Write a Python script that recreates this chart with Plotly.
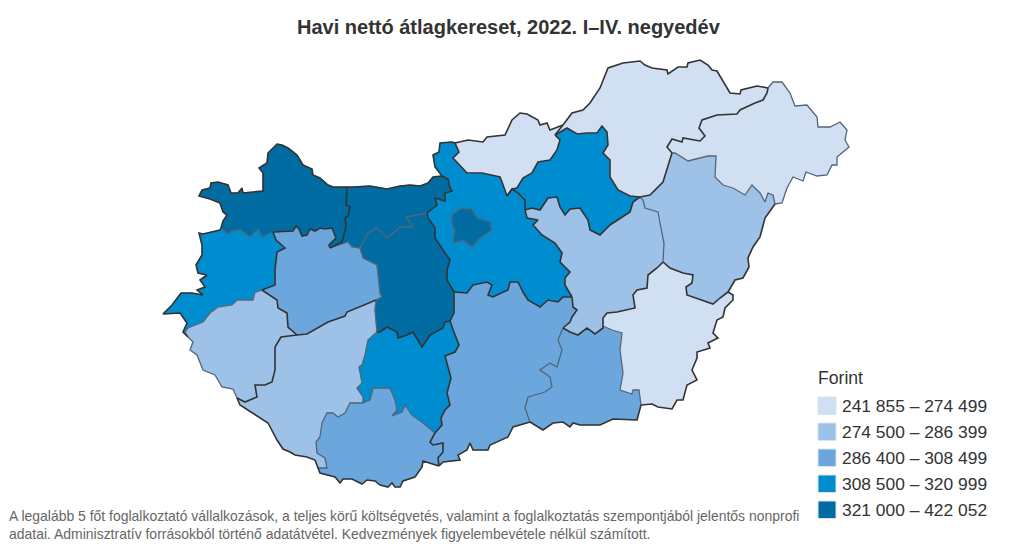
import plotly.graph_objects as go

# Havi nettó átlagkereset by county, boundaries (map units)
TITLE = "Havi nettó átlagkereset, 2022. I–IV. negyedév"
LEGEND_TITLE = "Forint"
CLASS_LABELS = ["241 855 – 274 499", "274 500 – 286 399", "286 400 – 308 499",
                "308 500 – 320 999", "321 000 – 422 052"]
CLASS_COLORS = ["#d0dff2", "#9dc1e7", "#6ba7dc", "#008dcf", "#006ca2"]
NOTE_LINES = ["A legalább 5 főt foglalkoztató vállalkozások, a teljes körű költségvetés, valamint a foglalkoztatás szempontjából jelentős nonprofi",
              "adatai. Adminisztratív forrásokból történő adatátvétel. Kedvezmények figyelembevétele nélkül számított."]

# county borders, shared between neighbours
GMS_N = [(347,187),(333,187),(328,185),(320,178),(313,175),(312,169),(303,165),(297,155),(288,148),(282,145),(277,144),(268,153),(267,163),(259,168),(263,173),(263,191),(243,193),(242,188),(238,193),(231,193),(228,185),(218,182),(211,183),(210,188),(202,190),(199,196),(210,199),(220,203),(223,212),(227,215),(223,221),(221,228)]
GMS_VAS = [(221,228),(227,234),(232,231),(240,230),(250,237),(258,229),(262,237),(273,232)]
GMS_VESZ = [(273,232),(293,231),(296,226),(299,229),(302,236),(307,235),(310,229),(315,231),(320,228),(325,229),(332,228),(336,238),(329,245),(330,248)]
GMS_KE = [(347,187),(346,205),(350,207),(348,216),(345,218),(346,227),(342,242),(332,247),(330,248)]
KE_NORTH = [(347,187),(353,187),(370,186),(387,189),(400,186),(410,185),(420,186),(428,183),(433,177),(442,176)]
KE_PEST = [(442,176),(448,179),(450,188),(452,191),(445,193),(445,201),(435,198),(437,205),(427,213)]
KE_FEJER = [(427,213),(406,217),(413,227),(408,227),(400,227),(387,238),(377,228),(368,233),(360,248)]
KE_VESZ = [(360,248),(352,247),(348,242),(340,245),(330,248)]
VAS_WEST = [(221,228),(220,230),(203,234),(199,233),(202,245),(202,255),(196,265),(198,273),(207,275),(200,280),(205,287),(197,290),(203,295),(192,293),(181,293),(172,305),(163,314),(180,313),(187,323),(183,332),(188,337)]
VAS_ZALA = [(188,337),(185,332),(188,328),(203,322),(210,313),(218,307),(232,305),(237,300),(253,300),(255,292),(262,290)]
VAS_VESZ = [(262,290),(275,285),(275,270),(277,252),(285,248),(276,240),(273,232)]
VESZ_FEJER = [(360,248),(363,258),(377,265),(380,293),(382,297),(376,300)]
VESZ_SOM = [(376,300),(347,312),(345,316),(328,322),(307,334),(297,335)]
VESZ_ZALA = [(297,335),(288,327),(287,313),(278,308),(277,300),(262,290)]
ZALA_SOM = [(297,335),(281,337),(275,347),(275,370),(272,382),(265,385),(255,385),(257,397),(245,402),(237,398)]
ZALA_OUT = [(188,337),(193,342),(190,350),(197,355),(203,370),(215,375),(222,387),(233,389),(237,398)]
FEJER_SOM = [(376,300),(375,310),(377,332)]
SOM_TOLNA = [(377,332),(368,340),(365,355),(362,365),(359,367),(362,383),(357,388),(363,397),(363,403)]
SOM_BAR = [(363,403),(350,403),(345,413),(338,417),(333,413),(327,413),(322,423),(320,437),(316,442),(317,453),(325,458),(327,468),(318,468)]
SOM_OUT = [(318,468),(315,460),(307,457),(295,455),(290,452),(283,449),(277,440),(268,423),(240,405),(237,398)]
BAR_TOLNA = [(363,403),(370,400),(373,388),(390,388),(395,400),(397,410),(392,416),(402,412),(405,405),(412,415),(423,423),(435,433)]
BAR_BACS = [(435,433),(430,442),(433,445),(443,443),(443,452),(438,458),(439,466)]
BAR_OUT = [(439,466),(423,461),(422,467),(415,477),(403,481),(400,487),(395,487),(392,483),(388,487),(380,485),(375,481),(367,480),(362,484),(352,479),(343,479),(340,483),(335,477),(320,473),(318,468)]
TOLNA_BACS = [(435,433),(442,425),(441,418),(445,410),(450,405),(447,393),(451,378),(448,367),(445,356),(455,352),(459,345),(455,335),(450,321)]
FEJER_TOLNA = [(377,332),(380,332),(387,327),(397,332),(398,338),(407,335),(413,332),(420,343),(422,347),(430,335),(443,328),(445,322),(450,321)]
FEJER_PEST = [(427,213),(428,218),(435,228),(435,238),(445,253),(450,260),(447,270),(447,280),(454,292)]
FEJER_BACS = [(454,292),(454,313),(450,321)]
PEST_N = [(442,176),(435,167),(433,155),(439,152),(440,143),(452,142),(455,143)]
PEST_NOG = [(455,143),(459,152),(453,158),(467,173),(482,173),(500,177),(502,182),(507,196)]
PEST_HEV = [(507,196),(512,189),(518,193),(525,200),(525,210)]
PEST_JNSZ = [(525,210),(527,218),(538,220),(533,225),(542,235),(555,243),(562,253),(560,262),(570,272),(565,278),(565,285),(572,297)]
PEST_BACS = [(454,292),(467,293),(473,285),(482,283),(487,282),(492,285),(488,295),(493,297),(508,290),(510,282),(518,282),(523,292),(528,300),(540,307),(548,300),(558,302),(563,297),(572,297)]
BACS_JNSZ = [(572,297),(573,307),(577,310),(572,317),(570,322),(563,328)]
BACS_CSON = [(563,328),(558,340),(562,350),(557,367),(550,363),(540,370),(550,377),(552,387),(545,392),(528,397),(525,408),(530,422)]
BACS_OUT = [(530,422),(513,427),(508,437),(490,445),(488,450),(473,450),(470,443),(467,450),(458,455),(460,460),(443,462),(439,466)]
CSON_JNSZ = [(563,328),(570,332),(578,335),(587,328),(595,334),(603,328),(603,326)]
CSON_BEK = [(603,326),(612,330),(622,333),(620,350),(623,373),(620,390),(632,394),(633,390),(639,390),(641,405)]
CSON_OUT = [(641,405),(637,420),(613,419),(600,425),(580,425),(573,423),(570,427),(563,422),(553,423),(543,430),(530,422)]
JNSZ_BEK = [(603,326),(603,318),(607,313),(617,312),(635,308),(633,295),(637,290),(647,288),(648,275),(657,268),(663,262)]
HAJ_BEK = [(663,262),(670,268),(683,273),(693,275),(692,283),(686,287),(687,295),(707,302),(713,304),(720,298),(728,292)]
BEK_OUT = [(728,292),(733,295),(733,300),(725,308),(723,317),(717,320),(713,333),(718,338),(708,343),(710,348),(697,352),(697,358),(692,370),(697,380),(687,385),(683,400),(677,400),(672,409),(658,407),(652,404),(641,405)]
JNSZ_HAJ = [(640,197),(643,200),(645,208),(658,212),(660,223),(664,243),(663,262)]
HEV_JNSZ = [(525,210),(532,208),(540,210),(548,198),(557,197),(560,207),(565,215),(570,209),(580,208),(588,220),(590,230),(600,235),(610,225),(630,212),(633,202),(640,197)]
HEV_NOG = [(507,196),(512,189),(517,188),(523,178),(532,173),(538,162),(550,160),(557,150),(560,140),(555,135)]
HEV_BAZ = [(555,135),(567,128),(577,134),(587,133),(597,133),(602,126),(607,132),(608,145),(603,153),(610,160),(610,177),(618,190),(630,196),(640,197)]
NOG_N = [(455,143),(468,140),(483,142),(487,137),(505,135),(512,120),(520,113),(527,114),(538,120),(540,125),(547,123),(550,130),(563,125)]
NOG_BAZ = [(563,125),(555,135)]
BAZ_N = [(563,125),(572,113),(583,110),(590,103),(600,88),(608,68),(623,63),(640,61),(645,65),(652,68),(667,70),(668,74),(678,67),(687,67),(688,63),(700,60),(708,65),(712,70),(717,71),(722,80),(730,93),(740,94),(741,90),(757,86),(768,88)]
BAZ_SZAB = [(768,88),(767,93),(763,100),(755,103),(740,110),(737,114),(717,115),(702,120),(699,128),(705,136),(700,141),(683,138),(682,142),(672,139),(667,147),(672,153)]
BAZ_HAJ = [(672,153),(668,165),(663,182),(650,195),(640,197)]
SZAB_OUT = [(768,88),(773,82),(782,82),(790,93),(795,106),(807,105),(817,117),(818,127),(830,127),(840,122),(847,130),(845,140),(849,147),(837,157),(837,165),(832,165),(827,175),(817,176),(806,172),(803,181),(793,177),(787,188),(782,203),(775,204)]
SZAB_HAJ = [(775,204),(773,195),(768,193),(765,202),(760,193),(752,185),(745,195),(733,188),(723,185),(715,177),(716,156),(708,156),(688,161),(675,153),(672,153)]
HAJ_OUT = [(775,204),(765,218),(760,237),(753,247),(748,258),(749,267),(743,278),(735,280),(728,292)]
BUDAPEST = [(452,215),(462,208),(472,209),(477,218),(490,222),(492,230),(480,238),(472,247),(463,240),(453,243),(455,230),(452,225),(452,215)]

DARK_ARCS = [GMS_N, GMS_VESZ, GMS_KE, KE_NORTH, KE_PEST, VAS_WEST, VAS_VESZ, VESZ_SOM, VESZ_ZALA, ZALA_SOM,
             SOM_OUT, BAR_BACS, BAR_OUT, TOLNA_BACS, FEJER_TOLNA, FEJER_PEST, FEJER_BACS, PEST_N, PEST_NOG,
             PEST_HEV, PEST_JNSZ, PEST_BACS, BACS_JNSZ, BACS_OUT, CSON_JNSZ, CSON_OUT, JNSZ_BEK, HAJ_BEK,
             BEK_OUT, HEV_JNSZ, HEV_NOG, HEV_BAZ, NOG_N, NOG_BAZ, BAZ_N, BAZ_SZAB, BAZ_HAJ, HAJ_OUT]
GREY_ARCS = [GMS_VAS, KE_FEJER, KE_VESZ, VAS_ZALA, VESZ_FEJER, ZALA_OUT, FEJER_SOM, SOM_TOLNA, SOM_BAR, BAR_TOLNA,
             BACS_CSON, CSON_BEK, JNSZ_HAJ, SZAB_OUT, SZAB_HAJ, BUDAPEST]

# county name, class index, borders in ring order
COUNTIES = [
    ("Győr-Moson-Sopron", 4, [GMS_N, GMS_VAS, GMS_VESZ, GMS_KE]),
    ("Komárom-Esztergom", 4, [KE_NORTH, KE_PEST, KE_FEJER, KE_VESZ, GMS_KE]),
    ("Vas", 3, [VAS_WEST, VAS_ZALA, VAS_VESZ, GMS_VAS]),
    ("Veszprém", 2, [GMS_VESZ, KE_VESZ, VESZ_FEJER, VESZ_SOM, VESZ_ZALA, VAS_VESZ]),
    ("Zala", 1, [VAS_ZALA, VESZ_ZALA, ZALA_SOM, ZALA_OUT]),
    ("Somogy", 1, [VESZ_SOM, FEJER_SOM, SOM_TOLNA, SOM_BAR, SOM_OUT, ZALA_SOM]),
    ("Baranya", 2, [SOM_BAR, BAR_TOLNA, BAR_BACS, BAR_OUT]),
    ("Tolna", 3, [SOM_TOLNA, BAR_TOLNA, TOLNA_BACS, FEJER_TOLNA]),
    ("Fejér", 4, [KE_FEJER, FEJER_PEST, FEJER_BACS, FEJER_TOLNA, FEJER_SOM, VESZ_FEJER]),
    ("Pest", 3, [KE_PEST, PEST_N, PEST_NOG, PEST_HEV, PEST_JNSZ, PEST_BACS, FEJER_PEST]),
    ("Bács-Kiskun", 2, [PEST_BACS, BACS_JNSZ, BACS_CSON, BACS_OUT, BAR_BACS, TOLNA_BACS, FEJER_BACS]),
    ("Csongrád-Csanád", 2, [BACS_CSON, CSON_JNSZ, CSON_BEK, CSON_OUT]),
    ("Békés", 0, [CSON_BEK, JNSZ_BEK, HAJ_BEK, BEK_OUT]),
    ("Hajdú-Bihar", 1, [HAJ_BEK, JNSZ_HAJ, BAZ_HAJ, SZAB_HAJ, HAJ_OUT]),
    ("Jász-Nagykun-Szolnok", 1, [PEST_JNSZ, BACS_JNSZ, CSON_JNSZ, JNSZ_BEK, JNSZ_HAJ, HEV_JNSZ]),
    ("Heves", 3, [PEST_HEV, HEV_NOG, HEV_BAZ, HEV_JNSZ]),
    ("Nógrád", 0, [PEST_NOG, NOG_N, NOG_BAZ, HEV_NOG]),
    ("Borsod-Abaúj-Zemplén", 0, [NOG_BAZ, BAZ_N, BAZ_SZAB, BAZ_HAJ, HEV_BAZ]),
    ("Szabolcs-Szatmár-Bereg", 0, [BAZ_SZAB, SZAB_OUT, SZAB_HAJ]),
    ("Budapest", 4, [BUDAPEST]),
]


def ring(arcs):
    # chain the borders of one county into a closed outline
    pts = list(arcs[0])
    if len(arcs) > 1 and pts[-1] not in (arcs[1][0], arcs[1][-1]):
        pts.reverse()
    for arc in arcs[1:]:
        if arc[0] == pts[-1]:
            pts += arc[1:]
        elif arc[-1] == pts[-1]:
            pts += arc[::-1][1:]
        else:
            raise ValueError("borders do not join: %s" % (arc[0],))
    return pts


def border_trace(arcs, color, width):
    xs, ys = [], []
    for arc in arcs:
        xs += [p[0] for p in arc] + [None]
        ys += [p[1] for p in arc] + [None]
    return go.Scatter(x=xs, y=ys, mode="lines", hoverinfo="skip", showlegend=False,
                      line=dict(color=color, width=width))


fig = go.Figure()
for name, cls, arcs in COUNTIES:
    pts = ring(arcs)
    fig.add_trace(go.Scatter(x=[p[0] for p in pts], y=[p[1] for p in pts], mode="lines", fill="toself",
                             fillcolor=CLASS_COLORS[cls], line=dict(color=CLASS_COLORS[cls], width=0.5),
                             name=name, text=CLASS_LABELS[cls], hoverinfo="name+text", showlegend=False))
fig.add_trace(border_trace(GREY_ARCS, "#52667a", 1.3))
fig.add_trace(border_trace(DARK_ARCS, "#333333", 1.6))

FONT = "Liberation Sans, Arial, sans-serif"
annotations = [
    dict(x=508.5, y=27, text="<b>%s</b>" % TITLE, showarrow=False, xanchor="center", yanchor="middle",
         font=dict(family=FONT, size=20, color="#333333")),
    dict(x=816, y=378, text=LEGEND_TITLE, showarrow=False, xanchor="left", yanchor="middle",
         font=dict(family=FONT, size=17.6, color="#333333")),
]
shapes = []
for i, (label, color) in enumerate(zip(CLASS_LABELS, CLASS_COLORS)):
    top = 397 + 26 * i
    shapes.append(dict(type="rect", x0=818, x1=836, y0=top, y1=top + 17.5, fillcolor=color,
                       line=dict(color="#d8e4f2", width=1), layer="above"))
    annotations.append(dict(x=840, y=top + 9, text=label, showarrow=False, xanchor="left", yanchor="middle",
                            font=dict(family=FONT, size=17.4, color="#333333")))
for i, line in enumerate(NOTE_LINES):
    # anchor must stay inside the axis range or plotly drops the annotation
    annotations.append(dict(x=8, xshift=-1, y=516 + 18 * i, text=line, showarrow=False, xanchor="left", yanchor="middle",
                            font=dict(family=FONT, size=13.96, color="#666666")))

# the page keeps its 8px body margin, so the canvas is 16px smaller and the axes start at 8
fig.update_layout(
    width=1005, height=541, margin=dict(l=0, r=0, t=0, b=0),
    paper_bgcolor="white", plot_bgcolor="white",
    xaxis=dict(range=[8, 1013], visible=False, fixedrange=True),
    yaxis=dict(range=[549, 8], visible=False, fixedrange=True),
    annotations=annotations, shapes=shapes,
)
fig.write_html("out.html", config=dict(displayModeBar=False))
